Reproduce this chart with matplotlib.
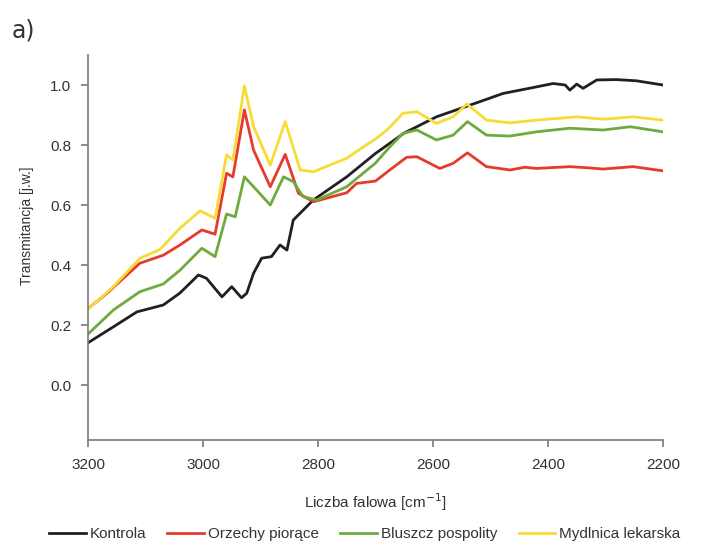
import matplotlib.pyplot as plt

plt.rcParams['font.family'] = ['Liberation Sans', 'DejaVu Sans']

# wavenumber [cm-1] and transmittance readings for each sample
kontrola_x = [3200, 3156, 3115, 3069, 3040, 3008, 2994, 2967, 2950, 2933, 2924, 2912,
              2898, 2881, 2866, 2854, 2843, 2808, 2750, 2700, 2650, 2594, 2540, 2478,
              2430, 2391, 2370, 2362, 2350, 2339, 2315, 2280, 2246, 2200]
kontrola_y = [0.141, 0.194, 0.244, 0.267, 0.307, 0.367, 0.356, 0.294, 0.328, 0.291, 0.306, 0.373,
              0.423, 0.428, 0.467, 0.45, 0.55, 0.617, 0.694, 0.772, 0.84, 0.894, 0.93, 0.972,
              0.99, 1.005, 1.0, 0.983, 1.003, 0.989, 1.017, 1.018, 1.014, 1.0]

orzechy_x = [3200, 3167, 3110, 3069, 3040, 3002, 2979, 2959, 2948, 2928, 2912, 2883,
             2857, 2834, 2808, 2750, 2733, 2700, 2675, 2646, 2628, 2588, 2565, 2540,
             2507, 2466, 2440, 2420, 2362, 2330, 2304, 2252, 2200]
orzechy_y = [0.255, 0.306, 0.406, 0.433, 0.467, 0.517, 0.503, 0.706, 0.694, 0.917, 0.783, 0.661,
             0.769, 0.639, 0.611, 0.641, 0.672, 0.68, 0.717, 0.759, 0.761, 0.722, 0.739, 0.774,
             0.728, 0.717, 0.726, 0.722, 0.728, 0.724, 0.72, 0.728, 0.714]

bluszcz_x = [3200, 3156, 3110, 3069, 3040, 3002, 2979, 2959, 2944, 2928, 2912, 2883,
             2860, 2843, 2826, 2802, 2750, 2700, 2675, 2652, 2628, 2594, 2565, 2540,
             2507, 2466, 2420, 2362, 2304, 2257, 2200]
bluszcz_y = [0.17, 0.25, 0.311, 0.337, 0.383, 0.456, 0.428, 0.57, 0.561, 0.694, 0.661, 0.6,
             0.694, 0.678, 0.628, 0.617, 0.661, 0.74, 0.794, 0.839, 0.85, 0.817, 0.833, 0.878,
             0.833, 0.83, 0.844, 0.856, 0.85, 0.861, 0.844]

mydlnica_x = [3200, 3156, 3110, 3075, 3040, 3005, 2979, 2959, 2948, 2928, 2912, 2883,
              2857, 2831, 2808, 2750, 2721, 2700, 2680, 2652, 2628, 2594, 2565, 2541,
              2507, 2466, 2420, 2350, 2304, 2252, 2200]
mydlnica_y = [0.253, 0.328, 0.422, 0.452, 0.523, 0.581, 0.556, 0.767, 0.75, 0.997, 0.861, 0.733,
              0.878, 0.717, 0.711, 0.756, 0.794, 0.82, 0.85, 0.906, 0.911, 0.872, 0.894, 0.937,
              0.883, 0.874, 0.883, 0.894, 0.886, 0.894, 0.883]

series = [
    ('Kontrola', kontrola_x, kontrola_y, '#231f20'),
    ('Orzechy piorące', orzechy_x, orzechy_y, '#e63a2b'),
    ('Bluszcz pospolity', bluszcz_x, bluszcz_y, '#6cab3c'),
    ('Mydlnica lekarska', mydlnica_x, mydlnica_y, '#f6dc35'),
]

fig = plt.figure(figsize=(7.08, 5.49), dpi=100)
ax = fig.add_axes([0.1243, 0.1985, 0.8121, 0.7013])

for name, xs, ys, col in series:
    ax.plot(xs, ys, color=col, lw=2.0, label=name, solid_joinstyle='round')

ax.set_xlim(3200, 2200)
ax.set_ylim(-0.183, 1.10)
ax.set_xticks([3200, 3000, 2800, 2600, 2400, 2200])
ax.set_yticks([0.0, 0.2, 0.4, 0.6, 0.8, 1.0])
ax.set_yticklabels(['0.0', '0.2', '0.4', '0.6', '0.8', '1.0'])

for s in ['top', 'right']:
    ax.spines[s].set_visible(False)
for s in ['left', 'bottom']:
    ax.spines[s].set_color('#7a7a7a')
    ax.spines[s].set_linewidth(1.2)
ax.tick_params(colors='#7a7a7a', labelcolor='#333333', labelsize=11, length=5, width=1.2)
ax.tick_params(axis='y', pad=7)
ax.tick_params(axis='x', pad=8)

ax.set_xlabel('Liczba falowa [cm$^{-1}$]', fontsize=11, color='#333333', labelpad=14)
ax.set_ylabel('Transmitancja [j.w.]', fontsize=10, color='#333333')
ax.yaxis.set_label_coords(-0.094, 0.556)

fig.text(0.017, 0.945, 'a)', fontsize=17, color='#333333', va='center', family='DejaVu Sans')

fig.legend(loc='center', bbox_to_anchor=(0.515, 0.027), ncol=4, frameon=False,
           fontsize=11, handlelength=2.4, handletextpad=0.25, columnspacing=1.4,
           labelcolor='#333333')

fig.savefig('out.png', dpi=100, facecolor='white')
